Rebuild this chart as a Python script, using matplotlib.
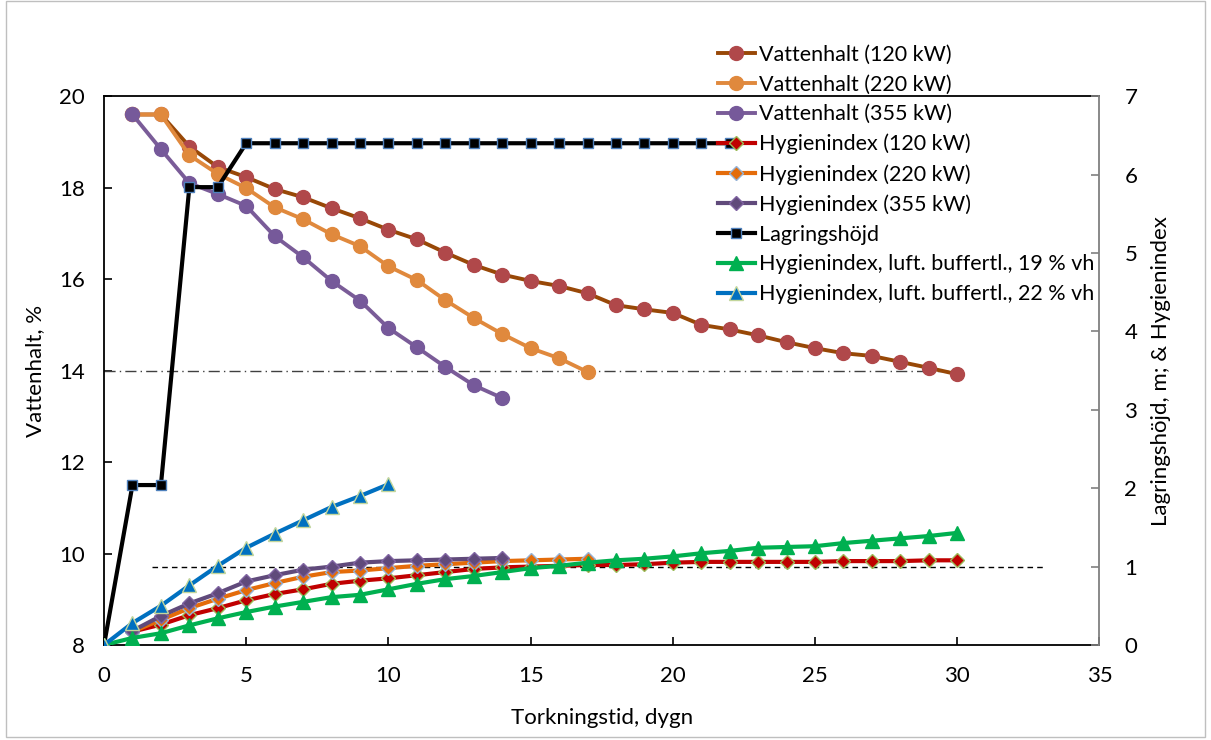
import matplotlib.pyplot as plt
from matplotlib.patches import Rectangle

plt.rcParams.update({
    "font.family": ["Lato", "DejaVu Sans"],
    "font.size": 14,
})

# ── Data ───────────────────────────────────────────────────────────────────────
days_120 = list(range(1, 31))
vh_120 = [19.6, 19.6, 18.9, 18.45, 18.23, 17.97, 17.79, 17.55, 17.33, 17.08,
          16.87, 16.58, 16.31, 16.1, 15.96, 15.85, 15.69, 15.43, 15.34, 15.26,
          15.0, 14.9, 14.77, 14.62, 14.49, 14.38, 14.32, 14.19, 14.06, 13.92]
days_220 = list(range(1, 18))
vh_220 = [19.6, 19.6, 18.71, 18.3, 17.99, 17.57, 17.31, 16.98, 16.72, 16.28,
          15.98, 15.54, 15.15, 14.8, 14.49, 14.27, 13.97]
days_355 = list(range(1, 15))
vh_355 = [19.6, 18.84, 18.1, 17.86, 17.6, 16.94, 16.48, 15.96, 15.53, 14.93,
          14.51, 14.08, 13.68, 13.4]

hi_120 = [0.17, 0.26, 0.38, 0.47, 0.57, 0.65, 0.71, 0.78, 0.82, 0.85,
          0.89, 0.93, 0.97, 0.99, 1.0, 1.01, 1.02, 1.02, 1.03, 1.05,
          1.06, 1.06, 1.06, 1.06, 1.06, 1.07, 1.07, 1.07, 1.08, 1.08]
hi_220 = [0.17, 0.32, 0.47, 0.59, 0.70, 0.79, 0.87, 0.93, 0.95, 0.98,
          1.01, 1.03, 1.05, 1.07, 1.08, 1.09, 1.1]
hi_355 = [0.18, 0.37, 0.53, 0.66, 0.81, 0.89, 0.96, 1.0, 1.05, 1.07,
          1.08, 1.09, 1.1, 1.11]

days_lag = list(range(0, 23))
lag_height = [0, 2.04, 2.04, 5.84, 5.84] + [6.4] * 18

days_19 = list(range(0, 31))
hi_19 = [0, 0.09, 0.15, 0.25, 0.34, 0.42, 0.49, 0.55, 0.61, 0.64, 0.71,
         0.78, 0.84, 0.88, 0.93, 0.98, 1.01, 1.05, 1.08, 1.1, 1.13,
         1.17, 1.2, 1.24, 1.25, 1.26, 1.3, 1.33, 1.36, 1.39, 1.43]
days_22 = list(range(0, 11))
hi_22 = [0, 0.28, 0.5, 0.76, 1.01, 1.24, 1.42, 1.59, 1.76, 1.9, 2.05]

ref_vh = 14.0          # dash-dot reference, left axis
ref_vh_x = [0, 30]
ref_hi = 1.0           # dashed reference, right axis
ref_hi_x = [1.7, 33]

# ── Figure ─────────────────────────────────────────────────────────────────────
fig = plt.figure(figsize=(12.11, 7.40), dpi=100)
ax = fig.add_axes([0.0859, 0.1284, 0.822, 0.7416])
ax2 = ax.twinx()

ax.plot(ref_vh_x, [ref_vh, ref_vh], color="#404040", lw=1.0, ls=(0, (8, 3, 1, 3)))

circ = dict(marker="o", markersize=10, lw=2.8)
l1, = ax.plot(days_120, vh_120, color="#984807", markerfacecolor="#B0484A",
              markeredgecolor="#B0484A", label="Vattenhalt (120 kW)", **circ)
l2, = ax.plot(days_220, vh_220, color="#E0893D", markerfacecolor="#E0893D",
              markeredgecolor="#E0893D", label="Vattenhalt (220 kW)", **circ)
l3, = ax.plot(days_355, vh_355, color="#7A5C98", markerfacecolor="#76599A",
              markeredgecolor="#76599A", label="Vattenhalt (355 kW)", **circ)

ax2.plot(ref_hi_x, [ref_hi, ref_hi], color="black", lw=1.0, ls=(0, (4, 3)))

dia = dict(marker="D", markersize=7.5, lw=3.0, markeredgewidth=1.0)
h1, = ax2.plot(days_120, hi_120, color="#C00000", markerfacecolor="#C00000",
               markeredgecolor="#9BBB59", label="Hygienindex (120 kW)", **dia)
h2, = ax2.plot(days_220, hi_220, color="#E46C0A", markerfacecolor="#E46C0A",
               markeredgecolor="#95B3D7", label="Hygienindex (220 kW)", **dia)
h3, = ax2.plot(days_355, hi_355, color="#604A7B", markerfacecolor="#604A7B",
               markeredgecolor="#8064A2", label="Hygienindex (355 kW)", **dia)
lg, = ax2.plot(days_lag, lag_height, color="black", lw=3.0, marker="s",
               markersize=7, markerfacecolor="black", markeredgecolor="#4F81BD",
               markeredgewidth=1.0, label="Lagringshöjd")
tri = dict(marker="^", markersize=10, lw=3.0, markeredgewidth=1.0)
g1, = ax2.plot(days_19, hi_19, color="#00B050", markerfacecolor="#00B050",
               markeredgecolor="#00B050",
               label="Hygienindex, luft. buffertl., 19 % vh", **tri)
b1, = ax2.plot(days_22, hi_22, color="#0070C0", markerfacecolor="#0070C0",
               markeredgecolor="#C3D69B",
               label="Hygienindex, luft. buffertl., 22 % vh", **tri)

# ── Axes ───────────────────────────────────────────────────────────────────────
ax.set_xlim(0, 35)
ax.set_ylim(8, 20)
ax2.set_ylim(0, 7)
ax.set_xticks(range(0, 36, 5))
ax.set_yticks(range(8, 21, 2))
ax2.set_yticks(range(0, 8))

ax.tick_params(direction="in", length=6, width=1.2, pad=14, labelsize=16)
ax.tick_params(axis="x", pad=15)
ax2.tick_params(direction="in", length=6, width=1.2, color="#808080",
                pad=18, labelsize=16)
for side in ["left", "bottom", "top"]:
    ax.spines[side].set_linewidth(1.3)
ax.spines["right"].set_visible(False)
ax2.spines["right"].set_color("#808080")
ax2.spines["right"].set_linewidth(1.3)
for side in ["left", "bottom", "top"]:
    ax2.spines[side].set_visible(False)

ax.set_xlabel("Torkningstid, dygn", fontsize=16, labelpad=16)
ax.set_ylabel("Vattenhalt, %", fontsize=16, labelpad=10)
ax2.set_ylabel("Lagringshöjd, m; & Hygienindex", fontsize=16, labelpad=10)

handles = [l1, l2, l3, h1, h2, h3, lg, g1, b1]
fig.legend(handles=handles, labels=[h.get_label() for h in handles],
           loc="upper left", bbox_to_anchor=(0.584, 0.954), frameon=False,
           fontsize=15.5, handlelength=1.7, handletextpad=0.2,
           labelspacing=0.45, borderpad=0, numpoints=1)

fig.patches.append(Rectangle((0.005, 0.004), 0.99, 0.994, transform=fig.transFigure,
                             fill=False, edgecolor="#BFBFBF", lw=1.0))

fig.savefig("out.png", dpi=100)
